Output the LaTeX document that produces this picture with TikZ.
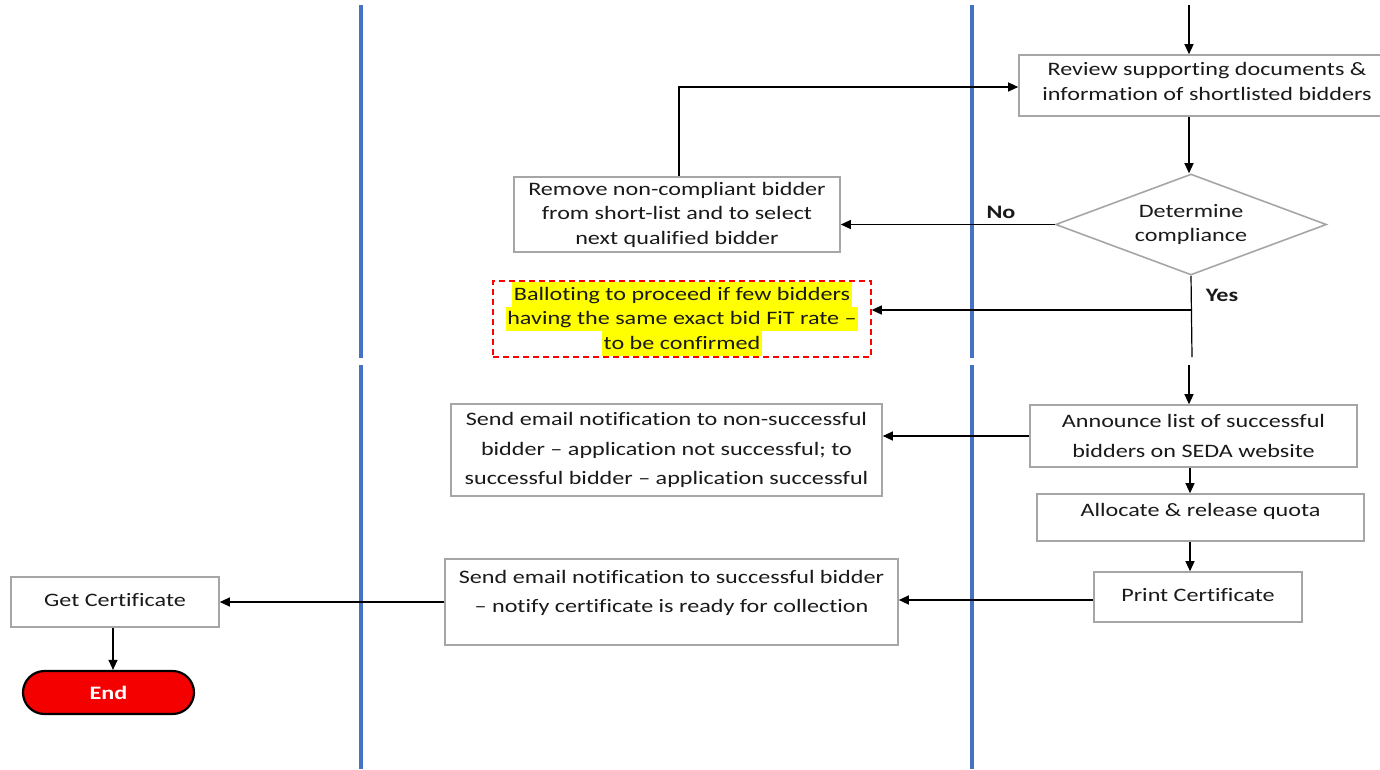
\documentclass[tikz,border=0pt]{standalone}
\usepackage{fontspec}
\setmainfont{Carlito}[FakeStretch=1.27,Ligatures=NoCommon]
\usetikzlibrary{shapes.geometric,shapes.misc,arrows.meta}
\definecolor{lane}{HTML}{4472C4}
\definecolor{boxgray}{HTML}{A6A6A6}
\definecolor{txtc}{HTML}{1A1A1A}
\definecolor{hly}{HTML}{FFFF00}
\definecolor{dashred}{HTML}{FF0000}
\definecolor{endred}{HTML}{F50000}
\newcommand\hlline[1]{{\setlength\fboxsep{1.5pt}\colorbox{hly}{\rule[-5pt]{0pt}{21.5pt}#1}}}
\begin{document}
\begin{tikzpicture}[x=1pt,y=-1pt,
  box/.style={draw=boxgray, line width=1.6pt, fill=white, inner sep=0pt, text=txtc, align=center,
    font=\fontsize{19}{24.5}\selectfont},
  big/.style={font=\fontsize{19}{29.5}\selectfont},
  txtnode/.style={text=txtc, align=center, inner sep=0pt},
  arr/.style={-{Triangle[length=10pt,width=9pt]}, line width=1.2pt},
  conn/.style={line width=1.2pt},
  lanestyle/.style={draw=lane, line width=4.5pt},
  lbl/.style={text=txtc, font=\fontsize{19}{22}\selectfont\bfseries, inner sep=0pt}
]
\useasboundingbox (0,0) rectangle (1380,769);
\clip (0,0) rectangle (1380,769);

% swimlane separators
\draw[lanestyle] (361,5) -- (361,358);
\draw[lanestyle] (361,365) -- (361,769);
\draw[lanestyle] (972,5) -- (972,358);
\draw[lanestyle] (972,365) -- (972,769);

% nodes
\node[box, minimum width=376, minimum height=61] (review) at (1207,85.5) {};
\node[txtnode, font=\fontsize{19}{24.5}\selectfont] (reviewt) at (1207,81.5)
  {Review supporting documents \&\\information of shortlisted bidders};
\node[box, diamond, aspect=2.7, minimum width=271, minimum height=101] (dec) at (1191,224.5)
  {Determine\\compliance};
\node[box, minimum width=326, minimum height=75] (remove) at (677,214.5)
  {Remove non-compliant bidder\\from short-list and to select\\next qualified bidder};
\node[box, draw=dashred, dash pattern=on 6pt off 4pt, line width=1.5pt, minimum width=378, minimum height=76] (ballot) at (682,319)
  {\hlline{Balloting to proceed if few bidders}\\\hlline{having the same exact bid FiT rate –}\\\hlline{to be confirmed}};
\node[box, big, minimum width=327, minimum height=62] (announce) at (1193.5,436)
  {Announce list of successful\\bidders on SEDA website};
\node[box, big, minimum width=431, minimum height=92] (send1) at (666.5,450)
  {Send email notification to non-successful\\bidder – application not successful; to\\successful bidder – application successful};
\node[box, minimum width=327, minimum height=47] (alloc) at (1200.5,517.5) {};
\node[txtnode, big] (alloct) at (1200.5,511) {Allocate \& release quota};
\node[box, minimum width=208, minimum height=50] (print) at (1198,597) {};
\node[txtnode, big] (printt) at (1198,595) {Print Certificate};
\node[box, minimum width=453, minimum height=86] (send2) at (671.5,602) {};
\node[txtnode, big] (send2t) at (671.5,593)
  {Send email notification to successful bidder\\– notify certificate is ready for collection};
\node[box, minimum width=208, minimum height=50] (getcert) at (115,602) {};
\node[txtnode, big] (getcertt) at (115,600) {Get Certificate};
\node[draw=black, line width=2.2pt, fill=endred, rounded rectangle, minimum width=171, minimum height=43,
  inner sep=0pt, text=white, font=\fontsize{19}{24}\selectfont\bfseries] (endn) at (108.5,692.5) {End};

\node[lbl] (nolbl) at (1001,212) {No};
\node[lbl] (yeslbl) at (1222,295) {Yes};

% coordinates for free ends
\coordinate (topin) at (1189,5);
\coordinate (yesend) at (1192,357);
\coordinate (yesbr) at (1192,310);
\coordinate (midin) at (1189,365);
\coordinate (loopc) at (679,87);

% connectors
\draw[arr] (topin) -- (topin |- review.north);
\draw[arr] (review.south -| 1189,0) -- (dec.north -| 1189,0);
\draw[arr] (dec.west) -- (dec.west -| remove.east);
\draw[arr] (remove.north -| loopc) -- (loopc) -- (loopc -| review.west);
\draw[conn] (dec.south) -- (yesend);
\draw[arr] (yesbr) -- (yesbr -| ballot.east);
\draw[arr] (midin) -- (midin |- announce.north);
\draw[arr] (announce.west) -- (announce.west -| send1.east);
\draw[arr] (announce.south -| 1190,0) -- (alloc.north -| 1190,0);
\draw[arr] (alloc.south -| 1190,0) -- (print.north -| 1190,0);
\draw[arr] ([yshift=-3pt]print.west) -- ([yshift=-3pt]print.west -| send2.east);
\draw[arr] (send2.west) -- (send2.west -| getcert.east);
\draw[arr] (getcert.south -| 113,0) -- (endn.north -| 113,0);
\end{tikzpicture}
\end{document}
